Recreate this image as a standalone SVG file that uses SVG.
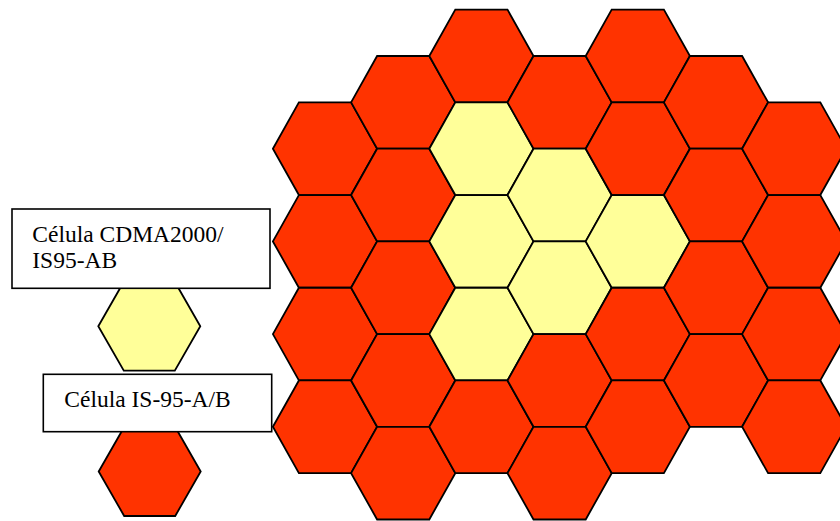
<svg xmlns="http://www.w3.org/2000/svg" xmlns:xlink="http://www.w3.org/1999/xlink" width="840" height="521" viewBox="0 0 840 521">
<style>
.r{fill:#FF3300}
.y{fill:#FFFF99}
.hx{stroke:#000;stroke-width:1.8;stroke-linejoin:miter}
.box{fill:#fff;stroke:#000;stroke-width:1.6}
.t{font-family:"Liberation Serif","Times New Roman",serif;font-size:23.5px;fill:#000}
</style>
<defs>
<polygon id="hex" points="-52.1,0 -26.1,-46.35 26.1,-46.35 52.1,0 26.1,46.35 -26.1,46.35"/>
<polygon id="shex" points="-51,0 -25.5,-44.5 25.5,-44.5 51,0 25.5,44.5 -25.5,44.5"/>
</defs>
<rect width="840" height="521" fill="#fff"/>
<g id="grid" class="hx">
<g id="c0r1"><use xlink:href="#hex" class="r" x="325" y="148.7"/></g>
<g id="c0r2"><use xlink:href="#hex" class="r" x="325" y="241.4"/></g>
<g id="c0r3"><use xlink:href="#hex" class="r" x="325" y="334.1"/></g>
<g id="c0r4"><use xlink:href="#hex" class="r" x="325" y="426.8"/></g>
<g id="c1r0"><use xlink:href="#hex" class="r" x="403.2" y="102.35"/></g>
<g id="c1r1"><use xlink:href="#hex" class="r" x="403.2" y="195.05"/></g>
<g id="c1r2"><use xlink:href="#hex" class="r" x="403.2" y="287.75"/></g>
<g id="c1r3"><use xlink:href="#hex" class="r" x="403.2" y="380.45"/></g>
<g id="c1r4"><use xlink:href="#hex" class="r" x="403.2" y="473.15"/></g>
<g id="c2r0"><use xlink:href="#hex" class="r" x="481.4" y="56"/></g>
<g id="c2r1"><use xlink:href="#hex" class="y" x="481.4" y="148.7"/></g>
<g id="c2r2"><use xlink:href="#hex" class="y" x="481.4" y="241.4"/></g>
<g id="c2r3"><use xlink:href="#hex" class="y" x="481.4" y="334.1"/></g>
<g id="c2r4"><use xlink:href="#hex" class="r" x="481.4" y="426.8"/></g>
<g id="c3r0"><use xlink:href="#hex" class="r" x="559.6" y="102.35"/></g>
<g id="c3r1"><use xlink:href="#hex" class="y" x="559.6" y="195.05"/></g>
<g id="c3r2"><use xlink:href="#hex" class="y" x="559.6" y="287.75"/></g>
<g id="c3r3"><use xlink:href="#hex" class="r" x="559.6" y="380.45"/></g>
<g id="c3r4"><use xlink:href="#hex" class="r" x="559.6" y="473.15"/></g>
<g id="c4r0"><use xlink:href="#hex" class="r" x="637.8" y="56"/></g>
<g id="c4r1"><use xlink:href="#hex" class="r" x="637.8" y="148.7"/></g>
<g id="c4r2"><use xlink:href="#hex" class="y" x="637.8" y="241.4"/></g>
<g id="c4r3"><use xlink:href="#hex" class="r" x="637.8" y="334.1"/></g>
<g id="c4r4"><use xlink:href="#hex" class="r" x="637.8" y="426.8"/></g>
<g id="c5r0"><use xlink:href="#hex" class="r" x="716" y="102.35"/></g>
<g id="c5r1"><use xlink:href="#hex" class="r" x="716" y="195.05"/></g>
<g id="c5r2"><use xlink:href="#hex" class="r" x="716" y="287.75"/></g>
<g id="c5r3"><use xlink:href="#hex" class="r" x="716" y="380.45"/></g>
<g id="c6r1"><use xlink:href="#hex" class="r" x="794.2" y="148.7"/></g>
<g id="c6r2"><use xlink:href="#hex" class="r" x="794.2" y="241.4"/></g>
<g id="c6r3"><use xlink:href="#hex" class="r" x="794.2" y="334.1"/></g>
<g id="c6r4"><use xlink:href="#hex" class="r" x="794.2" y="426.8"/></g>
</g>
<g id="legend-yellow-hex" class="hx"><use xlink:href="#shex" class="y" x="149.3" y="326.2"/></g>
<g id="legend-red-hex" class="hx"><use xlink:href="#shex" class="r" x="149.7" y="471.5"/></g>
<g id="label-cdma2000">
<rect class="box" x="12" y="209" width="258" height="79.3"/>
<text class="t" x="32.3" y="241.7">Célula CDMA2000/</text>
<text class="t" x="32.3" y="268.3">IS95-AB</text>
</g>
<g id="label-is95">
<rect class="box" x="43.3" y="374.3" width="228.4" height="57.4"/>
<text class="t" x="64.3" y="406.7">Célula IS-95-A/B</text>
</g>
</svg>
